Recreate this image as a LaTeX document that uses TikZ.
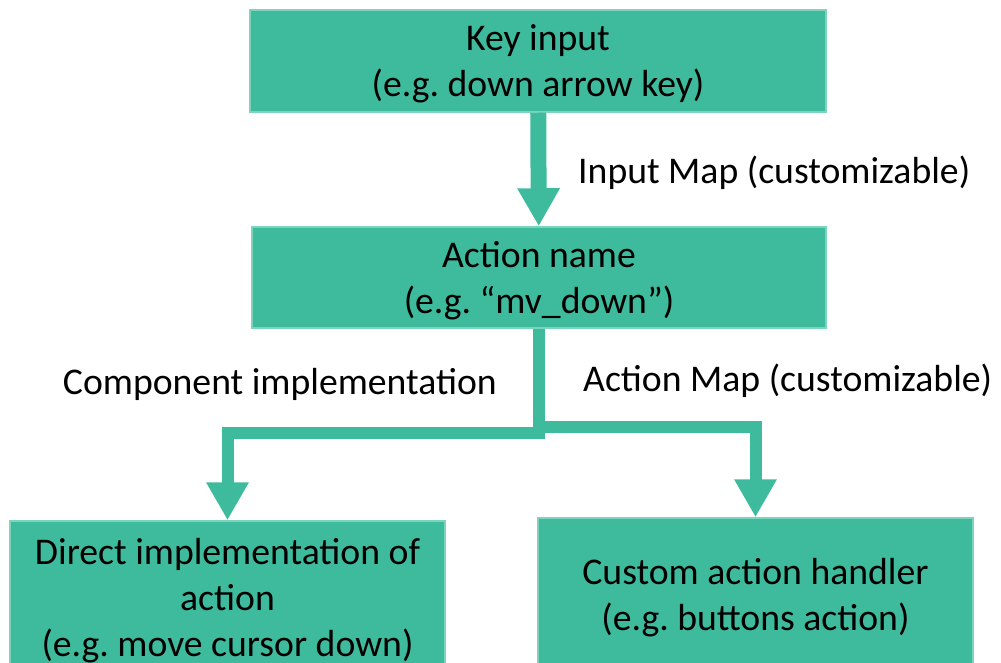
\documentclass[tikz,border=0pt]{standalone}
\usepackage{fontspec}
\setmainfont{Carlito}
\usetikzlibrary{arrows.meta}
\definecolor{boxfill}{HTML}{3EBB9D}
\definecolor{boxline}{HTML}{7CD4BC}
\frenchspacing

\begin{document}
\begin{tikzpicture}[x=1pt, y=-1pt,
  boxnode/.style={fill=boxfill, draw=boxline, line width=1.5pt, align=center,
    inner sep=0pt, text depth=0pt, font=\fontsize{37.7}{46}\selectfont},
  lbl/.style={inner sep=0pt, font=\fontsize{37.7}{46}\selectfont},
  bigarrow/.style={boxfill, line width=16pt, -{Triangle[length=38pt, width=40pt]}},
  conn/.style={boxfill, line width=12pt, miter limit=10,
    -{Triangle[length=38pt, width=40pt]}}]%
  \useasboundingbox (0,0) rectangle (1001,663);
  \clip (0,0) rectangle (1001,663);
  % boxes
  \node[boxnode, minimum width=576pt, minimum height=102pt] (keyin) at (538,61)
    {Key input\\(e.g. down arrow key)};
  \node[boxnode, minimum width=574pt, minimum height=101pt] (actname) at (539,277.5)
    {Action name\\(e.g. “mv\_down”)};
  \node[boxnode, minimum width=435pt, minimum height=152pt] (direct) at (227.5,597)
    {Direct implementation of\\action\\(e.g. move cursor down)};
  \node[boxnode, minimum width=435pt, minimum height=152pt] (custom) at (755.5,594)
    {Custom action handler\\(e.g. buttons action)};
  % connectors
  \draw[bigarrow] (keyin) -- (actname);
  \draw[conn] (actname.south) -- ++(0,104) -| (direct.north);
  \draw[conn] (actname.south) -- ++(0,98) -| (custom.north);
  % labels
  \node[lbl, anchor=west] (inmap) at (578,173) {Input Map (customizable)};
  \node[lbl, anchor=east] (compimpl) at (497,384) {Component implementation};
  \node[lbl, anchor=west] (actmap) at (583,381) {Action Map (customizable)};
\end{tikzpicture}
\end{document}
